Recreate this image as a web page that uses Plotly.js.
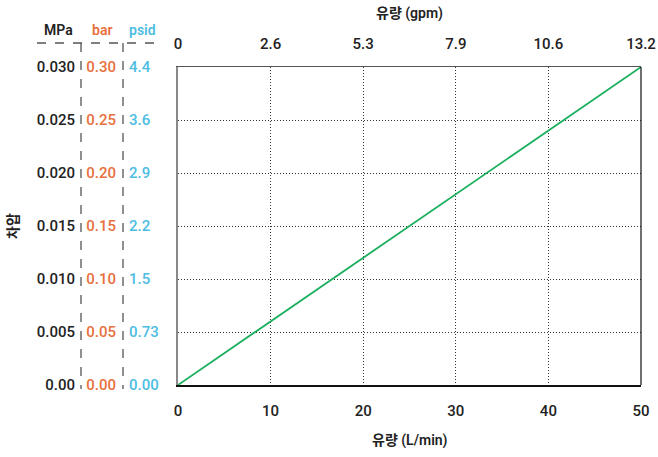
<!DOCTYPE html>
<html>
<head>
<meta charset="utf-8">
<script src="https://cdn.plot.ly/plotly-3.0.1.min.js"></script>
<style>html,body{margin:0;padding:0;background:#fff}#chart{width:658px;height:457px}</style>
</head>
<body>
<div id="chart"></div>
<script>
// Data
const flowLpm = [0, 50];
const pressureMPa = [0, 0.030];
const lpmTicks = [0, 10, 20, 30, 40, 50];
const gpmLabels = ['0', '2.6', '5.3', '7.9', '10.6', '13.2'];
const mpaTicks = [0, 0.005, 0.010, 0.015, 0.020, 0.025, 0.030];
const mpaLabels = ['0.00', '0.005', '0.010', '0.015', '0.020', '0.025', '0.030'];
const barTicks = [0, 0.05, 0.10, 0.15, 0.20, 0.25, 0.30];
const barLabels = ['0.00', '0.05', '0.10', '0.15', '0.20', '0.25', '0.30'];
const psidLabels = ['0.00', '0.73', '1.5', '2.2', '2.9', '3.6', '4.4'];

const W = 658;
const FONT = "Roboto, 'Noto Sans CJK KR', sans-serif";
const DARK = '#222222';
const ORANGE = '#E8703D';
const BLUE = '#4DBDE2';
const px = v => v / W;
const py = v => (385 - v) / 318;

const trace = {
  x: flowLpm, y: pressureMPa, type: 'scatter', mode: 'lines',
  line: {color: '#1AAF5D', width: 1.8}, hoverinfo: 'skip', showlegend: false
};
const dummyTop = {x: flowLpm, y: pressureMPa, xaxis: 'x2', yaxis: 'y', mode: 'lines', line: {width: 0}, hoverinfo: 'skip', showlegend: false};
const dummyBar = {x: flowLpm, y: [0, 0.30], yaxis: 'y2', mode: 'lines', line: {width: 0}, hoverinfo: 'skip', showlegend: false};
const dummyPsid = {x: flowLpm, y: pressureMPa, yaxis: 'y3', mode: 'lines', line: {width: 0}, hoverinfo: 'skip', showlegend: false};
const dummyMpa = {x: flowLpm, y: pressureMPa, yaxis: 'y4', mode: 'lines', line: {width: 0}, hoverinfo: 'skip', showlegend: false};

const tickFont = c => ({family: FONT, size: 15, color: c, weight: 500});
const freeY = (pos, side, vals, text, color, range) => ({
  overlaying: 'y', anchor: 'free', position: pos, side: side,
  range: range, tickvals: vals, ticktext: text, tickfont: tickFont(color),
  showgrid: false, showline: false, zeroline: false, ticks: '', fixedrange: true
});
const ann = (text, x, y, color, angle) => ({
  text: text, xref: 'paper', yref: 'paper', x: px(x), y: py(y),
  xanchor: 'center', yanchor: 'middle', textangle: angle || 0, showarrow: false,
  font: {family: FONT, size: 14, color: color, weight: 600}
});
const dashLine = (x0, y0, x1, y1) => ({
  type: 'line', xref: 'paper', yref: 'paper', x0: px(x0), x1: px(x1), y0: py(y0), y1: py(y1),
  line: {color: '#555', width: 1.3, dash: 'dash'}
});

const layout = {
  width: 658, height: 457,
  margin: {l: 0, r: 0, t: 67, b: 72},
  paper_bgcolor: '#fff', plot_bgcolor: '#fff',
  font: {family: FONT, color: DARK},
  xaxis: {
    domain: [px(178), px(641)], range: [0, 50], tickvals: lpmTicks,
    tickfont: tickFont(DARK), ticks: 'outside', ticklen: 11, tickcolor: 'rgba(0,0,0,0)',
    showline: true, linecolor: '#111', linewidth: 2,
    showgrid: true, gridcolor: '#333', griddash: '1px,2px', gridwidth: 1,
    zeroline: false, fixedrange: true
  },
  xaxis2: {
    overlaying: 'x', side: 'top', anchor: 'y', range: [0, 50],
    tickvals: lpmTicks, ticktext: gpmLabels, tickfont: tickFont(DARK),
    ticks: 'outside', ticklen: 11, tickcolor: 'rgba(0,0,0,0)',
    showline: true, linecolor: '#555', linewidth: 1.5,
    showgrid: false, zeroline: false, fixedrange: true
  },
  yaxis: {
    domain: [0, 1], range: [0, 0.030], tickvals: mpaTicks, showticklabels: false,
    showline: true, linecolor: '#888', linewidth: 2, ticks: '',
    showgrid: true, gridcolor: '#333', griddash: '1px,2px', gridwidth: 1,
    zeroline: false, fixedrange: true
  },
  yaxis2: freeY(px(116), 'left', barTicks, barLabels, ORANGE, [0, 0.30]),
  yaxis3: freeY(px(128), 'right', mpaTicks, psidLabels, BLUE, [0, 0.030]),
  yaxis4: freeY(px(75), 'left', mpaTicks, mpaLabels, DARK, [0, 0.030]),
  shapes: [
    dashLine(81, 43, 81, 389),
    dashLine(123, 43, 123, 389),
    dashLine(37, 43, 160, 43),
    {type: 'line', xref: 'x domain', yref: 'y domain', x0: 1, x1: 1, y0: 0, y1: 1, line: {color: '#111', width: 1.2}}
  ],
  annotations: [
    ann('MPa', 58, 30, DARK),
    ann('bar', 102, 30, ORANGE),
    ann('psid', 142, 30, BLUE),
    ann('유량 (gpm)', 410, 14, DARK),
    ann('유량 (L/min)', 410, 440, DARK),
    ann('차압', 13, 226, DARK, -90)
  ]
};

Plotly.newPlot('chart', [trace, dummyTop, dummyBar, dummyPsid, dummyMpa], layout, {displayModeBar: false, staticPlot: true});
</script>
</body>
</html>
